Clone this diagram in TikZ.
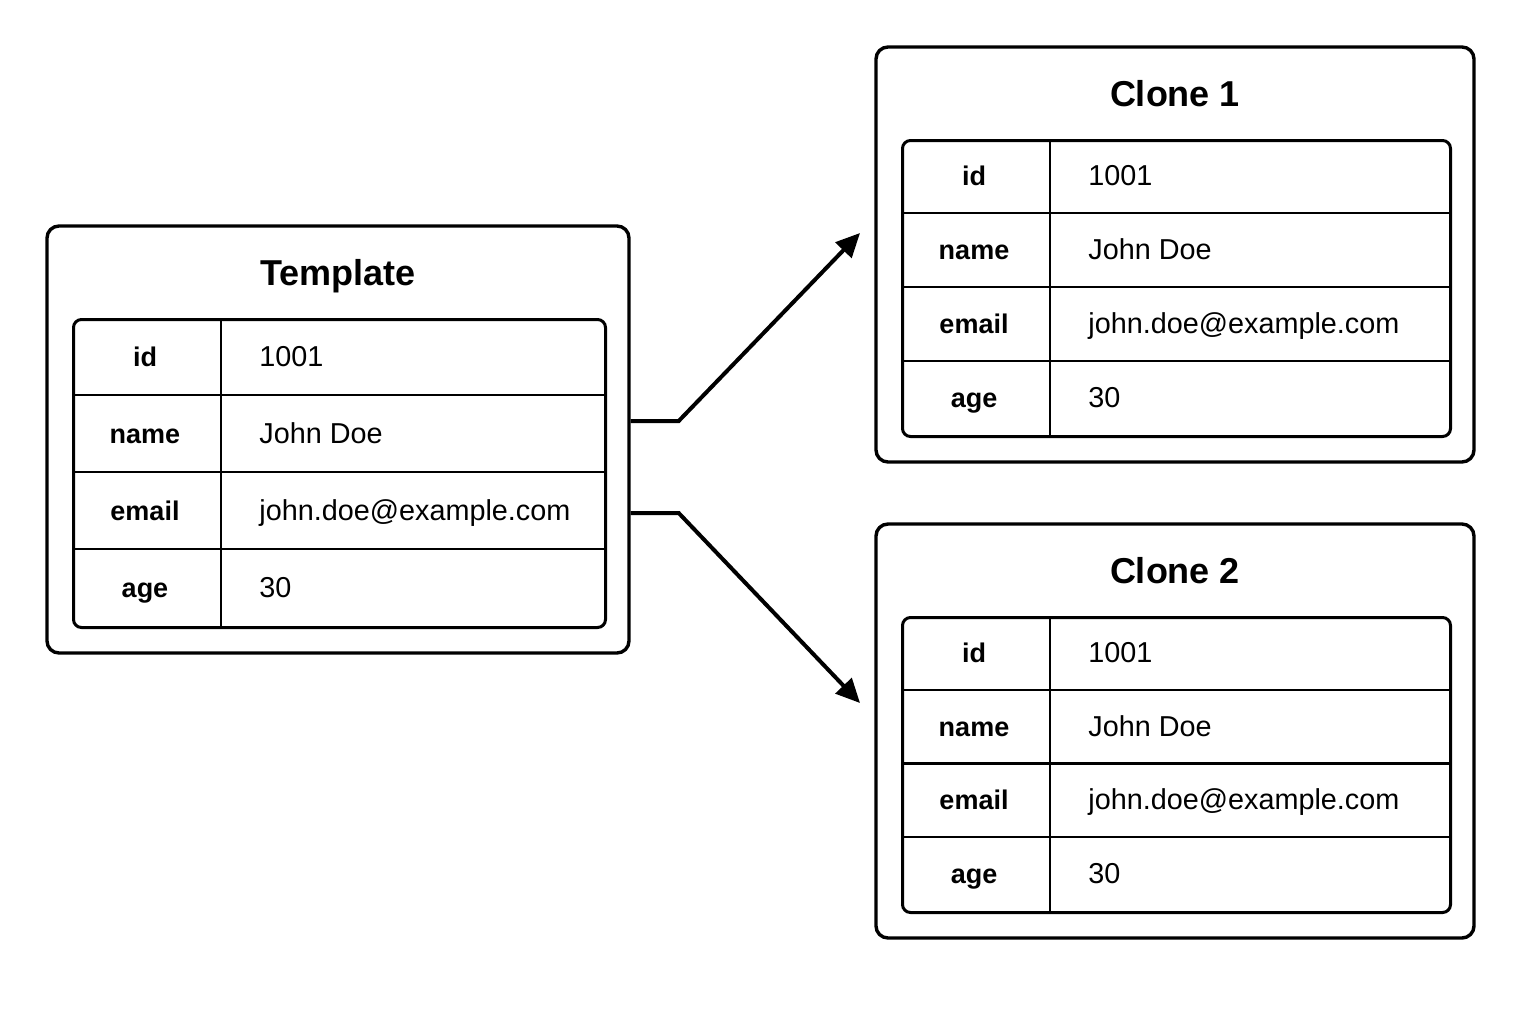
\documentclass[tikz,border=0pt]{standalone}
\usepackage{fontspec}
\setmainfont{Liberation Sans}
\usepackage{tikz}
\usetikzlibrary{positioning, arrows.meta, calc}

\tikzset{
  card/.style={draw, line width=1.7pt, rounded corners=6pt, inner sep=0pt},
  tablebox/.style={draw, line width=1.5pt, rounded corners=4pt, inner sep=0pt},
  rowline/.style={line width=1.2pt},
  cardtitle/.style={font=\bfseries\fontsize{18}{20}\selectfont, text height=13pt, text depth=0pt, inner sep=0pt},
  keytext/.style={font=\bfseries\fontsize{13.5}{16}\selectfont, text height=9.5pt, text depth=0pt, inner sep=0pt},
  valtext/.style={font=\fontsize{14.4}{16}\selectfont, text height=9.5pt, text depth=0pt, inner sep=0pt, anchor=west},
  link/.style={line width=2pt, -{Triangle[length=12pt, width=11pt]}},
}

% one record card: name, left, top, right, bottom, title
\newcommand{\recordcard}[6]{%
  \pgfmathsetmacro{\rowh}{(#5-#3-119)/4}
  \node[card, minimum width={(#4-#2)*0.5pt}, minimum height={(#5-#3)*0.5pt}]
    (#1) at ({(#2+#4)/2},{(#3+#5)/2}) {};
  \node[cardtitle] (#1-title) at ({(#2+#4)/2},{#3+46}) {#6};
  \node[tablebox, anchor=north west, minimum width={(#4-#2-50)*0.5pt},
    minimum height={(#5-#3-119)*0.5pt}] (#1-tab) at ({#2+25},{#3+92}) {};
  \foreach \k in {1,2,3}
    \draw[rowline] ({#2+25},{#3+92+\k*\rowh}) -- ({#4-25},{#3+92+\k*\rowh});
  \draw[rowline] ({#2+174},{#3+92}) -- ({#2+174},{#5-27});
  \foreach \k/\fkey/\fval in {0/id/1001, 1/name/John Doe, 2/email/john.doe@example.com, 3/age/30} {
    \node[keytext] (#1-k\k) at ({#2+98},{#3+92+(\k+0.5)*\rowh}) {\fkey};
    \node[valtext] (#1-v\k) at ({#2+212},{#3+92+(\k+0.5)*\rowh}) {\fval};
  }
}

\begin{document}
\begin{tikzpicture}[x=0.5pt, y=-0.5pt]
  \fill[white] (0,0) rectangle (1536,1024);
  \useasboundingbox (0,0) rectangle (1536,1024);

  \recordcard{tmpl}{47}{226}{629}{653}{Template}
  \recordcard{clone1}{876}{47}{1474}{462}{Clone 1}
  \recordcard{clone2}{876}{524}{1474}{938}{Clone 2}

  % copies
  \coordinate (tip1) at (860,233);
  \coordinate (tip2) at (860,703);
  \draw[link] ($(tmpl.east)+(0,-18.5)$) -- ++(48,0) -- (tip1);
  \draw[link] ($(tmpl.east)+(0,73.5)$) -- ++(48,0) -- (tip2);
\end{tikzpicture}
\end{document}
